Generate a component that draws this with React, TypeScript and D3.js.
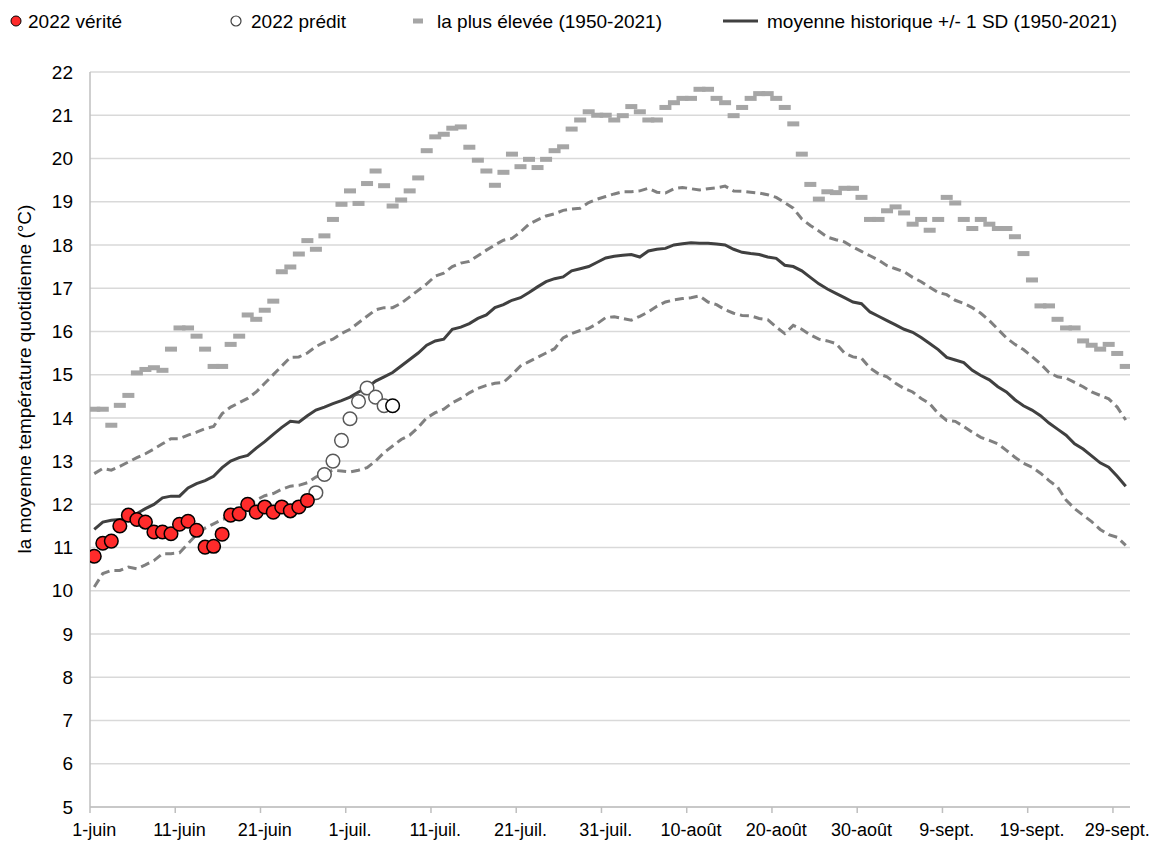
import React from "react";
import * as d3 from "d3";

// one value per day, 1 June -> 30 Sept
const dates = d3.timeDay.range(new Date(2022, 5, 1), new Date(2022, 9, 1));

const tickLabels = [
  "1-juin", "11-juin", "21-juin", "1-juil.", "11-juil.", "21-juil.", "31-juil.",
  "10-août", "20-août", "30-août", "9-sept.", "19-sept.", "29-sept.",
];
const yTicks = [5, 6, 7, 8, 9, 10, 11, 12, 13, 14, 15, 16, 17, 18, 19, 20, 21, 22];

const observed2022 = [
  10.8, 11.1, 11.15, 11.5, 11.75, 11.65, 11.59, 11.36, 11.36, 11.32,
  11.54, 11.61, 11.4, 11.01, 11.03, 11.31, 11.75, 11.78, 12.0, 11.82,
  11.94, 11.82, 11.94, 11.85, 11.94, 12.09,
];
// predicted values start on day 26 (27 June)
const predicted2022 = [12.27, 12.69, 13.0, 13.48, 13.98, 14.38, 14.69, 14.48, 14.28, 14.28];
const predictedStart = 26;

const highest = [
  14.2, 14.2, 13.83, 14.29, 14.52, 15.04, 15.12, 15.16, 15.1, 15.59,
  16.08, 16.08, 15.89, 15.59, 15.19, 15.19, 15.7, 15.89, 16.38, 16.28,
  16.49, 16.7, 17.38, 17.49, 17.79, 18.1, 17.9, 18.21, 18.59, 18.94,
  19.25, 18.96, 19.42, 19.71, 19.37, 18.9, 19.04, 19.25, 19.55, 20.18,
  20.5, 20.56, 20.7, 20.73, 20.26, 19.96, 19.71, 19.38, 19.68, 20.1,
  19.81, 19.98, 19.79, 19.98, 20.18, 20.27, 20.68, 20.89, 21.08, 21.0,
  21.0, 20.89, 20.99, 21.2, 21.08, 20.89, 20.89, 21.18, 21.29, 21.39,
  21.39, 21.6, 21.6, 21.39, 21.29, 20.99, 21.18, 21.39, 21.5, 21.5,
  21.39, 21.18, 20.8, 20.1, 19.4, 19.06, 19.23, 19.21, 19.31, 19.31,
  19.1, 18.59, 18.59, 18.79, 18.88, 18.74, 18.48, 18.59, 18.34, 18.59,
  19.1, 18.97, 18.59, 18.38, 18.59, 18.48, 18.38, 18.38, 18.19, 17.8,
  17.19, 16.59, 16.59, 16.28, 16.08, 16.08, 15.78, 15.68, 15.59, 15.7,
  15.49, 15.19,
];

const mean = [
  11.42, 11.59, 11.63, 11.65, 11.67, 11.79, 11.9, 12.0, 12.15, 12.19,
  12.19, 12.38, 12.48, 12.55, 12.65, 12.85, 13.0, 13.08, 13.13, 13.3,
  13.45, 13.62, 13.78, 13.92, 13.9, 14.05, 14.18, 14.25, 14.33, 14.4,
  14.48, 14.6, 14.7, 14.85, 14.95, 15.05, 15.2, 15.35, 15.5, 15.68,
  15.78, 15.82, 16.05, 16.1, 16.18, 16.3, 16.38, 16.55, 16.62, 16.72,
  16.78, 16.9, 17.03, 17.15, 17.22, 17.26, 17.4, 17.45, 17.5, 17.6,
  17.7, 17.74, 17.76, 17.78, 17.72, 17.86, 17.9, 17.92, 18.0, 18.03,
  18.05, 18.04, 18.04, 18.02, 18.0, 17.9, 17.83, 17.8, 17.78, 17.72,
  17.69, 17.53, 17.5, 17.4, 17.25, 17.1, 16.98, 16.88, 16.78, 16.68,
  16.64, 16.45, 16.35, 16.25, 16.15, 16.05, 15.98, 15.86, 15.72, 15.58,
  15.4, 15.34, 15.28, 15.1, 14.98, 14.88, 14.72, 14.6, 14.42, 14.28,
  14.18, 14.05, 13.88, 13.74, 13.6, 13.4, 13.28, 13.12, 12.96, 12.86,
  12.65, 12.42,
];

const meanPlusSd = [
  12.71, 12.83, 12.79, 12.88, 12.98, 13.08, 13.17, 13.28, 13.4, 13.52,
  13.52, 13.6, 13.67, 13.75, 13.8, 14.1, 14.25, 14.35, 14.45, 14.6,
  14.8, 15.0, 15.2, 15.4, 15.41, 15.5, 15.65, 15.75, 15.82, 15.95,
  16.05, 16.2, 16.35, 16.5, 16.55, 16.55, 16.65, 16.8, 16.95, 17.1,
  17.28, 17.35, 17.5, 17.58, 17.62, 17.75, 17.88, 18.0, 18.11, 18.15,
  18.3, 18.48, 18.58, 18.67, 18.72, 18.8, 18.83, 18.85, 18.98, 19.06,
  19.12, 19.18, 19.23, 19.23, 19.25, 19.31, 19.22, 19.2, 19.3, 19.33,
  19.3, 19.27, 19.3, 19.32, 19.36, 19.25, 19.24, 19.22, 19.2, 19.16,
  19.1, 18.98, 18.85, 18.6, 18.45, 18.32, 18.18, 18.12, 18.07, 17.95,
  17.85, 17.75, 17.65, 17.52, 17.45, 17.38, 17.25, 17.15, 17.02, 16.9,
  16.85, 16.72, 16.65, 16.55, 16.42, 16.25, 16.05, 15.85, 15.7, 15.58,
  15.42, 15.25, 15.05, 14.95, 14.92, 14.82, 14.72, 14.6, 14.52, 14.44,
  14.25, 13.95,
];

const meanMinusSd = [
  10.09, 10.4, 10.47, 10.47, 10.55, 10.51, 10.6, 10.7, 10.86, 10.86,
  10.88, 11.09, 11.3, 11.45, 11.55, 11.65, 11.71, 11.86, 11.98, 12.1,
  12.2, 12.25, 12.35, 12.42, 12.44, 12.5, 12.63, 12.72, 12.79, 12.77,
  12.75, 12.79, 12.85, 13.0, 13.2, 13.35, 13.5, 13.6, 13.78, 14.0,
  14.12, 14.2, 14.35, 14.45, 14.58, 14.68, 14.75, 14.8, 14.82, 15.0,
  15.2, 15.3, 15.4, 15.5, 15.6, 15.85, 15.95, 16.02, 16.07, 16.18,
  16.32, 16.34, 16.3, 16.26, 16.35, 16.45, 16.58, 16.68, 16.73, 16.76,
  16.78, 16.82, 16.68, 16.62, 16.5, 16.42, 16.37, 16.36, 16.3, 16.27,
  16.1, 15.95, 16.14, 16.05, 15.92, 15.82, 15.78, 15.72, 15.5, 15.41,
  15.38, 15.15, 15.02, 14.95, 14.8, 14.68, 14.6, 14.45, 14.33, 14.1,
  13.94, 13.92, 13.8, 13.67, 13.55, 13.48, 13.4, 13.25, 13.09, 12.95,
  12.86, 12.72, 12.55, 12.4, 12.1, 11.9, 11.75, 11.6, 11.42, 11.3,
  11.24, 11.05,
];

const width = 1161;
const height = 843;
const margin = { top: 72, right: 31, bottom: 36, left: 90 };
const font = "'Liberation Sans', Arial, sans-serif";

const App = () => {
  const x = d3
    .scaleBand<number>()
    .domain(dates.map((d, i) => i))
    .range([margin.left, width - margin.right])
    .padding(0);
  const cx = (i: number) => (x(i) as number) + x.bandwidth() / 2;

  const y = d3
    .scaleLinear()
    .domain([5, 22])
    .range([height - margin.bottom, margin.top]);

  const line = d3
    .line<number>()
    .x((d, i) => cx(i))
    .y((d) => y(d));

  const left = margin.left;
  const right = width - margin.right;
  const bottom = height - margin.bottom;

  return (
    <svg
      width={width}
      height={height}
      style={{ position: "absolute", left: 0, top: 0, background: "#fff" }}
      fontFamily={font}
    >
      <defs>
        <clipPath id="plot">
          <rect x={left} y={margin.top - 10} width={right - left} height={bottom - margin.top + 10} />
        </clipPath>
      </defs>

      {/* gridlines */}
      {yTicks.map((t) => (
        <line key={t} x1={left} x2={right} y1={y(t)} y2={y(t)} stroke="#d9d9d9" strokeWidth={1.5} />
      ))}

      {/* axes */}
      <line x1={left} x2={left} y1={margin.top} y2={bottom} stroke="#bfbfbf" strokeWidth={1.5} />
      <line x1={left} x2={right} y1={bottom} y2={bottom} stroke="#bfbfbf" strokeWidth={1.5} />
      {tickLabels.map((lab, k) => {
        const i = k * 10;
        return (
          <g key={lab}>
            <line x1={x(i)} x2={x(i)} y1={bottom} y2={bottom + 6} stroke="#bfbfbf" strokeWidth={1.5} />
            <text x={cx(i)} y={bottom + 29} textAnchor="middle" fontSize={18} fill="#000">
              {lab}
            </text>
          </g>
        );
      })}
      {yTicks.map((t) => (
        <text key={t} x={left - 17} y={y(t)} dy="0.35em" textAnchor="end" fontSize={19} fill="#000">
          {t}
        </text>
      ))}
      <text
        transform={`translate(31, 379) rotate(-90)`}
        textAnchor="middle"
        fontSize={19}
        fill="#000"
      >
        la moyenne température quotidienne (°C)
      </text>

      <g clipPath="url(#plot)">
        {/* highest on record, dash markers */}
        {highest.map((v, i) => (
          <rect key={i} x={cx(i) - 6} y={y(v) - 2.5} width={12} height={5} fill="#a6a6a6" />
        ))}
        <path d={line(meanPlusSd) || ""} fill="none" stroke="#808080" strokeWidth={3} strokeDasharray="9,5" />
        <path d={line(meanMinusSd) || ""} fill="none" stroke="#808080" strokeWidth={3} strokeDasharray="9,5" />
        <path d={line(mean) || ""} fill="none" stroke="#404040" strokeWidth={3} />

        {predicted2022.map((v, k) => (
          <circle
            key={"p" + k}
            cx={cx(predictedStart + k)}
            cy={y(v)}
            r={6.8}
            fill="#fff"
            stroke={k === predicted2022.length - 1 ? "#000" : "#595959"}
            strokeWidth={1.5}
          />
        ))}
        {observed2022.map((v, i) => (
          <circle key={"o" + i} cx={cx(i)} cy={y(v)} r={6.8} fill="#ff2b2b" stroke="#000" strokeWidth={1.5} />
        ))}
      </g>

      {/* legend */}
      <g fontSize={19} fill="#000">
        <circle cx={16} cy={21} r={5} fill="#ff2b2b" stroke="#000" strokeWidth={1} />
        <text x={28} y={28}>2022 vérité</text>
        <circle cx={236} cy={21} r={5} fill="#fff" stroke="#404040" strokeWidth={1.2} />
        <text x={251} y={28}>2022 prédit</text>
        <rect x={413} y={18.5} width={10} height={5} fill="#a6a6a6" />
        <text x={437} y={28}>la plus élevée (1950-2021)</text>
        <line x1={723} x2={758} y1={21} y2={21} stroke="#404040" strokeWidth={3} />
        <text x={767} y={28}>moyenne historique +/- 1 SD (1950-2021)</text>
      </g>
    </svg>
  );
};

export default App;
